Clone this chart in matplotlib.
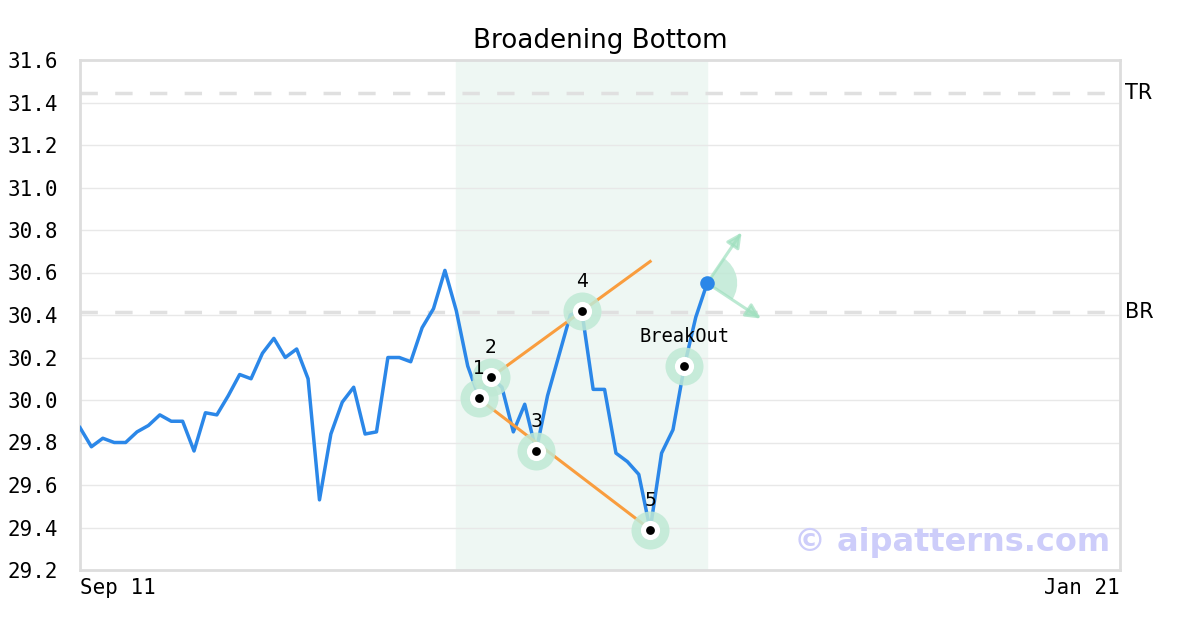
import numpy as np
import matplotlib.pyplot as plt
import matplotlib.transforms as mtransforms
from matplotlib.patches import Wedge

# serie de precios (un punto por sesión)
precios = [29.87, 29.78, 29.82, 29.80, 29.80, 29.85, 29.88, 29.93, 29.90, 29.90,
           29.76, 29.94, 29.93, 30.02, 30.12, 30.10, 30.22, 30.29, 30.20, 30.24,
           30.10, 29.53, 29.84, 29.99, 30.06, 29.84, 29.85, 30.20, 30.20, 30.18,
           30.34, 30.43, 30.61, 30.42, 30.16, 30.01, 30.11, 30.06, 29.85, 29.98,
           29.76, 30.02, 30.21, 30.40, 30.42, 30.05, 30.05, 29.75, 29.71, 29.65,
           29.39, 29.75, 29.86, 30.16, 30.39, 30.55]
n_total = 91.2          # largo del eje x en sesiones
x_labels = ['Sep 11', 'Jan 21']

# puntos del patrón
pat_idx = [35, 36, 40, 44, 50]
pat_lbl = ['1', '2', '3', '4', '5']
breakout_idx = 53
# líneas del patrón (inicio, fin)
sup_x, sup_y = [35, 50], [30.066, 30.652]
inf_x, inf_y = [35, 50], [30.005, 29.391]
zona = [33, 55]
tr, br = 31.445, 30.414

x = np.arange(len(precios))
precios = np.array(precios)

fig = plt.figure(figsize=(12, 6.3), dpi=100)
ax = fig.add_axes([80/1200, 60/630, 1040/1200, 510/630])

ax.axvspan(zona[0], zona[1], color='#eef7f3', zorder=0)
for v in np.arange(29.4, 31.6, 0.2):
    ax.axhline(v, color='#e8e8e8', lw=1, zorder=1)
ax.axhline(tr, color='#e0e0e0', lw=2.5, dashes=(5, 5), zorder=1)
ax.axhline(br, color='#e0e0e0', lw=2.5, dashes=(5, 5), zorder=1)

ax.plot(x, precios, color='#2b87e8', lw=2.5, zorder=3)
ax.plot(sup_x, sup_y, color='#f99d3e', lw=2.2, zorder=4)
ax.plot(inf_x, inf_y, color='#f99d3e', lw=2.2, zorder=4)

# marcadores del patrón y breakout
mk = pat_idx + [breakout_idx]
ax.scatter(x[mk], precios[mk], s=750, color='#bfe9d5', alpha=0.85, lw=0, zorder=5)
ax.scatter(x[mk], precios[mk], s=190, color='white', lw=0, zorder=6)
ax.scatter(x[mk], precios[mk], s=40, color='black', lw=0, zorder=7)
for i, t in zip(pat_idx, pat_lbl):
    ax.annotate(t, (x[i], precios[i]), xytext=(0, 21), textcoords='offset points',
                ha='center', va='center', fontsize=13.5, family='DejaVu Sans', zorder=8)
ax.annotate('BreakOut', (x[breakout_idx], precios[breakout_idx]), xytext=(0, 21),
            textcoords='offset points', ha='center', va='center', fontsize=13.5,
            family='DejaVu Sans Mono', zorder=8)

# punto final con flechas y abanico
xf, yf = x[-1], precios[-1]
trans = fig.dpi_scale_trans + mtransforms.ScaledTranslation(xf, yf, ax.transData)
ax.add_patch(Wedge((0, 0), 0.30, -33, 57, transform=trans, color='#bfe9d5',
                   alpha=0.85, lw=0, zorder=5))
for dx, dy in [(0.36, 0.53), (0.56, -0.37)]:
    ax.annotate('', xy=(dx, dy), xycoords=trans, xytext=(0, 0), textcoords=trans,
                arrowprops=dict(arrowstyle='-|>', color='#9fe0bf', alpha=0.7,
                                lw=2.2, mutation_scale=22), zorder=6)
ax.scatter([xf], [yf], s=110, color='#2b87e8', lw=0, zorder=8)

ax.text(1.005, tr, 'TR', transform=ax.get_yaxis_transform(), va='center',
        fontsize=15, family='DejaVu Sans')
ax.text(1.005, br, 'BR', transform=ax.get_yaxis_transform(), va='center',
        fontsize=15, family='DejaVu Sans')
ax.text(0.9905, 0.053, '© aipatterns.com', transform=ax.transAxes, ha='right',
        va='center', fontsize=23, fontweight='bold', color='#cdcdfa',
        family='DejaVu Sans', zorder=9)

ax.set_xlim(0, n_total)
ax.set_ylim(29.2, 31.6)
ax.set_yticks(np.round(np.arange(29.2, 31.61, 0.2), 1))
ax.set_yticklabels([f'{v:.1f}' for v in np.arange(29.2, 31.61, 0.2)],
                   family='DejaVu Sans Mono', fontsize=15)
ax.set_xticks([0, n_total])
ax.set_xticklabels(x_labels, family='DejaVu Sans Mono', fontsize=15)
xt = ax.get_xticklabels()
xt[0].set_ha('left')
xt[1].set_ha('right')
ax.tick_params(length=0, pad=6)
ax.tick_params(axis='y', pad=16)
for s in ax.spines.values():
    s.set_color('#dddddd')
    s.set_linewidth(2)
ax.set_title('Broadening Bottom', fontsize=18.8, family='DejaVu Sans', pad=9)

plt.savefig('out.png', dpi=100)
